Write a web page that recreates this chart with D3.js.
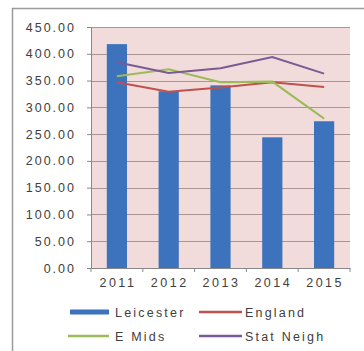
<!DOCTYPE html>
<html>
<head>
<meta charset="utf-8">
<script src="https://cdn.jsdelivr.net/npm/d3@7"></script>
<style>
  body { margin: 0; background: #fff; }
  text { font-family: "Liberation Sans", Arial, sans-serif; fill: #404040; }
</style>
</head>
<body>
<div id="chart"></div>
<script>
// chart data
var years = ["2011", "2012", "2013", "2014", "2015"];
var leicester = [418, 330, 341, 244, 274];
var england = [347, 329, 337, 347, 338];
var eMids = [358, 371, 347, 348, 279];
var statNeigh = [384, 364, 373, 394, 363];
var yTicks = [0, 50, 100, 150, 200, 250, 300, 350, 400, 450];

var svgWidth = 364, svgHeight = 351;
var margin = { top: 27, right: 14, bottom: 83, left: 91 };
var width = svgWidth - margin.left - margin.right;
var height = svgHeight - margin.top - margin.bottom;

var svg = d3.select("#chart")
  .append("svg")
  .attr("width", svgWidth)
  .attr("height", svgHeight);

// outer frame (only top and left edges show)
svg.append("line").attr("x1", 12).attr("x2", svgWidth).attr("y1", 8.5).attr("y2", 8.5)
  .attr("stroke", "#9a9a9a").attr("stroke-width", 1.5);
svg.append("line").attr("x1", 12.5).attr("x2", 12.5).attr("y1", 8).attr("y2", svgHeight)
  .attr("stroke", "#9a9a9a").attr("stroke-width", 1.5);

var chartGroup = svg.append("g")
  .attr("transform", `translate(${margin.left}, ${margin.top})`);

var x = d3.scaleBand().domain(years).range([0, width]).paddingInner(0.61).paddingOuter(0.305);
var y = d3.scaleLinear().domain([0, 450]).range([height, 0]);

// plot background
chartGroup.append("rect")
  .attr("width", width).attr("height", height)
  .attr("fill", "#f2dcdb");

// gridlines
chartGroup.selectAll(".grid")
  .data(yTicks.slice(1))
  .enter()
  .append("line")
  .attr("x1", 0).attr("x2", width)
  .attr("y1", d => Math.round(y(d)) + 0.5)
  .attr("y2", d => Math.round(y(d)) + 0.5)
  .attr("stroke", "#ad9494").attr("stroke-width", 1);

// bars
chartGroup.selectAll(".bar")
  .data(leicester)
  .enter()
  .append("rect")
  .attr("x", (d, i) => x(years[i]))
  .attr("y", d => y(d))
  .attr("width", x.bandwidth())
  .attr("height", d => height - y(d))
  .attr("fill", "#3d72bd");

// lines
var series = [
  { name: "England", values: england, color: "#c0504d" },
  { name: "E Mids", values: eMids, color: "#9bbb59" },
  { name: "Stat Neigh", values: statNeigh, color: "#7a5a94" }
];
var line = d3.line()
  .x((d, i) => x(years[i]) + x.bandwidth() / 2)
  .y(d => y(d));
series.forEach(function(s) {
  chartGroup.append("path")
    .datum(s.values)
    .attr("d", line)
    .attr("fill", "none")
    .attr("stroke", s.color)
    .attr("stroke-width", 2);
});

// axes
var leftAxis = d3.axisLeft(y).tickValues(yTicks).tickFormat(d3.format(".2f")).tickSize(4).tickPadding(11);
var gy = chartGroup.append("g").call(leftAxis);
gy.select(".domain").attr("stroke", "#888");
gy.selectAll(".tick line").attr("stroke", "#888");
gy.selectAll("text").style("font-size", "12.5px").style("letter-spacing", "2px").attr("fill", "#454545");

var bottomAxis = d3.axisBottom(x).tickSize(0).tickPadding(10);
var gx = chartGroup.append("g").attr("transform", `translate(0, ${height})`).call(bottomAxis);
gx.select(".domain").attr("stroke", "#888");
gx.selectAll("text").style("font-size", "12.5px").style("letter-spacing", "2.5px")
  .attr("dx", "1px").attr("fill", "#454545");
// category boundary ticks
var step = x.step();
chartGroup.selectAll(".xb")
  .data(d3.range(years.length + 1))
  .enter()
  .append("line")
  .attr("x1", d => d * step).attr("x2", d => d * step)
  .attr("y1", height).attr("y2", height + 4)
  .attr("stroke", "#888");

// legend
var legendItems = [
  { name: "Leicester", color: "#3d72bd", w: 5, x: 70, y: 312 },
  { name: "England", color: "#c0504d", w: 2.5, x: 199, y: 312 },
  { name: "E Mids", color: "#9bbb59", w: 2.5, x: 68, y: 336 },
  { name: "Stat Neigh", color: "#7a5a94", w: 2.5, x: 199, y: 336 }
];
var legend = svg.selectAll(".legend")
  .data(legendItems)
  .enter()
  .append("g")
  .attr("transform", d => `translate(${d.x}, ${d.y})`);
legend.append("line")
  .attr("x1", 0).attr("x2", d => 244 - d.x - 2 > 0 && d.x > 150 ? 43 : 109 - d.x)
  .attr("y1", 0).attr("y2", 0)
  .attr("stroke", d => d.color).attr("stroke-width", d => d.w);
legend.append("text")
  .attr("x", d => d.x > 150 ? 46 : 115 - d.x).attr("y", 4.5)
  .style("font-size", "12.5px").style("letter-spacing", "2.2px")
  .attr("fill", "#454545")
  .text(d => d.name);
</script>
</body>
</html>
